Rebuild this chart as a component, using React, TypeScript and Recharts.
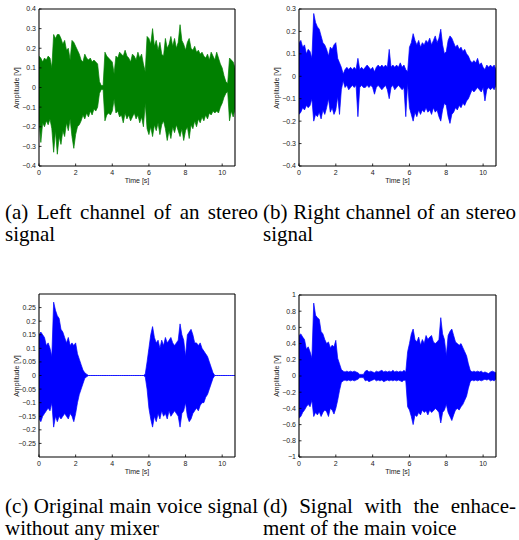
import React from 'react';
import { ComposedChart, Area, XAxis, YAxis } from 'recharts';

// time axis in seconds (0.1 s steps)
const TIME = [
  0, 0.1, 0.2, 0.3, 0.4, 0.5, 0.6, 0.7, 0.8, 0.9,
  1, 1.1, 1.2, 1.3, 1.4, 1.5, 1.6, 1.7, 1.8, 1.9,
  2, 2.1, 2.2, 2.3, 2.4, 2.5, 2.6, 2.7, 2.8, 2.9,
  3, 3.1, 3.2, 3.3, 3.4, 3.5, 3.6, 3.7, 3.8, 3.9,
  4, 4.1, 4.2, 4.3, 4.4, 4.5, 4.6, 4.7, 4.8, 4.9,
  5, 5.1, 5.2, 5.3, 5.4, 5.5, 5.6, 5.7, 5.8, 5.9,
  6, 6.1, 6.2, 6.3, 6.4, 6.5, 6.6, 6.7, 6.8, 6.9,
  7, 7.1, 7.2, 7.3, 7.4, 7.5, 7.6, 7.7, 7.8, 7.9,
  8, 8.1, 8.2, 8.3, 8.4, 8.5, 8.6, 8.7, 8.8, 8.9,
  9, 9.1, 9.2, 9.3, 9.4, 9.5, 9.6, 9.7, 9.8, 9.9,
  10, 10.1, 10.2, 10.3, 10.4, 10.5, 10.6, 10.7,
];

const X_TICKS = [0, 2, 4, 6, 8, 10];

// (a) left channel envelope
const LEFT_HI = [
  0.16, 0.15, 0.13, 0.15, 0.14, 0.16, 0.15, 0.10, 0.27, 0.25,
  0.27, 0.27, 0.25, 0.22, 0.24, 0.19, 0.20, 0.14, 0.24, 0.23,
  0.21, 0.19, 0.17, 0.14, 0.13, 0.17, 0.15, 0.14, 0.15, 0.13,
  0.14, 0.13, 0.12, 0.03, 0.01, 0.01, 0.18, 0.16, 0.15, 0.14,
  0.13, 0.07, 0.16, 0.15, 0.18, 0.17, 0.16, 0.19, 0.16, 0.15,
  0.13, 0.17, 0.16, 0.14, 0.18, 0.15, 0.17, 0.12, 0.08, 0.26,
  0.25, 0.22, 0.30, 0.21, 0.24, 0.19, 0.23, 0.17, 0.16, 0.25,
  0.20, 0.22, 0.26, 0.21, 0.25, 0.20, 0.23, 0.32, 0.24, 0.22,
  0.19, 0.23, 0.25, 0.20, 0.19, 0.21, 0.18, 0.19, 0.17, 0.18,
  0.16, 0.15, 0.17, 0.14, 0.18, 0.16, 0.14, 0.18, 0.15, 0.12,
  0.10, 0.06, 0.03, 0.02, 0.15, 0.14, 0.13, 0.10,
];
const LEFT_LO = [
  -0.17, -0.28, -0.18, -0.20, -0.17, -0.19, -0.16, -0.21, -0.33, -0.22,
  -0.34, -0.25, -0.29, -0.22, -0.25, -0.18, -0.22, -0.16, -0.25, -0.31,
  -0.24, -0.20, -0.19, -0.17, -0.14, -0.16, -0.13, -0.15, -0.12, -0.14,
  -0.11, -0.12, -0.10, -0.03, -0.01, -0.01, -0.17, -0.14, -0.13, -0.14,
  -0.12, -0.06, -0.13, -0.12, -0.15, -0.14, -0.18, -0.13, -0.16, -0.14,
  -0.17, -0.15, -0.13, -0.16, -0.14, -0.18, -0.15, -0.20, -0.08, -0.21,
  -0.24, -0.20, -0.25, -0.19, -0.22, -0.18, -0.24, -0.19, -0.17, -0.21,
  -0.27, -0.22, -0.26, -0.20, -0.23, -0.19, -0.22, -0.25, -0.21, -0.27,
  -0.22, -0.20, -0.26, -0.19, -0.21, -0.17, -0.20, -0.16, -0.18, -0.15,
  -0.17, -0.14, -0.16, -0.13, -0.14, -0.12, -0.13, -0.12, -0.13, -0.10,
  -0.08, -0.05, -0.03, -0.02, -0.17, -0.12, -0.15, -0.11,
];

// (b) right channel envelope
const RIGHT_HI = [
  0.15, 0.16, 0.13, 0.14, 0.10, 0.12, 0.11, 0.08, 0.28, 0.24,
  0.22, 0.21, 0.18, 0.15, 0.14, 0.12, 0.09, 0.13, 0.12, 0.14,
  0.15, 0.08, 0.06, 0.04, 0.01, 0.03, 0.04, 0.03, 0.04, 0.03,
  0.04, 0.03, 0.08, 0.03, 0.04, 0.03, 0.04, 0.05, 0.04, 0.03,
  0.04, 0.02, 0.04, 0.05, 0.04, 0.05, 0.04, 0.05, 0.04, 0.12,
  0.04, 0.05, 0.04, 0.05, 0.04, 0.06, 0.04, 0.05, 0.03, 0.02,
  0.13, 0.15, 0.19, 0.16, 0.14, 0.16, 0.13, 0.15, 0.14, 0.16,
  0.15, 0.17, 0.14, 0.16, 0.18, 0.15, 0.17, 0.21, 0.14, 0.10,
  0.11, 0.16, 0.18, 0.17, 0.15, 0.13, 0.14, 0.12, 0.13, 0.11,
  0.12, 0.10, 0.09, 0.07, 0.06, 0.07, 0.06, 0.08, 0.05, 0.06,
  0.04, 0.03, 0.05, 0.04, 0.05, 0.04, 0.05, 0.03,
];
const RIGHT_LO = [
  -0.17, -0.16, -0.14, -0.15, -0.13, -0.14, -0.13, -0.10, -0.20, -0.17,
  -0.18, -0.16, -0.19, -0.15, -0.17, -0.14, -0.10, -0.16, -0.14, -0.17,
  -0.15, -0.09, -0.17, -0.06, -0.02, -0.05, -0.04, -0.06, -0.05, -0.04,
  -0.05, -0.04, -0.18, -0.05, -0.04, -0.05, -0.05, -0.04, -0.05, -0.04,
  -0.05, -0.08, -0.05, -0.04, -0.05, -0.06, -0.05, -0.04, -0.06, -0.10,
  -0.05, -0.04, -0.06, -0.05, -0.04, -0.05, -0.06, -0.05, -0.18, -0.03,
  -0.14, -0.17, -0.20, -0.16, -0.18, -0.15, -0.17, -0.15, -0.16, -0.14,
  -0.16, -0.15, -0.17, -0.14, -0.16, -0.15, -0.18, -0.20, -0.15, -0.12,
  -0.13, -0.18, -0.21, -0.17, -0.16, -0.14, -0.15, -0.13, -0.14, -0.12,
  -0.13, -0.11, -0.10, -0.08, -0.06, -0.07, -0.06, -0.05, -0.06, -0.07,
  -0.05, -0.11, -0.06, -0.05, -0.06, -0.05, -0.06, -0.04,
];

// (c) original main voice envelope
const VOICE_HI = [
  0.15, 0.16, 0.15, 0.14, 0.11, 0.12, 0.10, 0.07, 0.27, 0.24,
  0.22, 0.21, 0.17, 0.16, 0.14, 0.12, 0.14, 0.11, 0.12, 0.11,
  0.12, 0.08, 0.06, 0.04, 0.02, 0.01, 0.005, 0, 0, 0,
  0, 0, 0, 0, 0, 0, 0, 0, 0, 0,
  0, 0, 0, 0, 0, 0, 0, 0, 0, 0,
  0, 0, 0, 0, 0, 0, 0, 0, 0.005, 0.05,
  0.10, 0.15, 0.18, 0.14, 0.12, 0.13, 0.10, 0.13, 0.11, 0.14,
  0.12, 0.13, 0.14, 0.12, 0.11, 0.12, 0.13, 0.19, 0.15, 0.13,
  0.07, 0.15, 0.16, 0.17, 0.15, 0.12, 0.12, 0.11, 0.12, 0.10,
  0.09, 0.08, 0.07, 0.05, 0.03, 0.01, 0, 0, 0, 0,
  0, 0, 0, 0, 0, 0, 0, 0,
];
const VOICE_LO = [
  -0.16, -0.17, -0.15, -0.14, -0.13, -0.12, -0.13, -0.10, -0.19, -0.15,
  -0.17, -0.15, -0.16, -0.15, -0.14, -0.15, -0.16, -0.14, -0.15, -0.17,
  -0.14, -0.10, -0.07, -0.05, -0.03, -0.01, -0.005, 0, 0, 0,
  0, 0, 0, 0, 0, 0, 0, 0, 0, 0,
  0, 0, 0, 0, 0, 0, 0, 0, 0, 0,
  0, 0, 0, 0, 0, 0, 0, 0, -0.005, -0.05,
  -0.12, -0.16, -0.19, -0.15, -0.17, -0.14, -0.16, -0.13, -0.15, -0.14,
  -0.16, -0.13, -0.15, -0.14, -0.13, -0.14, -0.15, -0.19, -0.14, -0.13,
  -0.10, -0.15, -0.17, -0.16, -0.14, -0.13, -0.12, -0.13, -0.11, -0.10,
  -0.10, -0.08, -0.07, -0.05, -0.03, -0.01, 0, 0, 0, 0,
  0, 0, 0, 0, 0, 0, 0, 0,
];

// (d) enhanced signal envelope
const ENH_HI = [
  0.50, 0.52, 0.48, 0.45, 0.33, 0.36, 0.30, 0.22, 0.90, 0.75,
  0.72, 0.70, 0.55, 0.52, 0.45, 0.40, 0.42, 0.35, 0.38, 0.36,
  0.44, 0.22, 0.15, 0.08, 0.06, 0.05, 0.06, 0.05, 0.06, 0.05,
  0.06, 0.05, 0.04, 0.02, 0.02, 0.02, 0.06, 0.07, 0.05, 0.06,
  0.05, 0.04, 0.06, 0.05, 0.06, 0.07, 0.05, 0.06, 0.05, 0.06,
  0.05, 0.07, 0.05, 0.06, 0.05, 0.06, 0.05, 0.07, 0.05, 0.30,
  0.40, 0.52, 0.58, 0.45, 0.42, 0.48, 0.38, 0.45, 0.40, 0.50,
  0.45, 0.48, 0.50, 0.42, 0.40, 0.42, 0.45, 0.72, 0.52, 0.45,
  0.25, 0.50, 0.55, 0.58, 0.50, 0.42, 0.40, 0.38, 0.40, 0.35,
  0.30, 0.25, 0.15, 0.07, 0.05, 0.06, 0.05, 0.06, 0.05, 0.06,
  0.04, 0.05, 0.04, 0.03, 0.05, 0.06, 0.05, 0.04,
];
const ENH_LO = [
  -0.52, -0.50, -0.45, -0.42, -0.38, -0.35, -0.38, -0.30, -0.50, -0.45,
  -0.48, -0.44, -0.50, -0.45, -0.42, -0.44, -0.50, -0.40, -0.42, -0.47,
  -0.40, -0.30, -0.18, -0.08, -0.06, -0.05, -0.06, -0.05, -0.06, -0.05,
  -0.06, -0.05, -0.04, -0.02, -0.02, -0.02, -0.06, -0.05, -0.07, -0.06,
  -0.05, -0.04, -0.06, -0.05, -0.06, -0.05, -0.07, -0.06, -0.05, -0.06,
  -0.05, -0.06, -0.05, -0.06, -0.05, -0.06, -0.07, -0.05, -0.06, -0.38,
  -0.42, -0.50, -0.60, -0.48, -0.50, -0.45, -0.48, -0.42, -0.45, -0.43,
  -0.48, -0.42, -0.45, -0.43, -0.40, -0.42, -0.45, -0.58, -0.45, -0.42,
  -0.35, -0.45, -0.50, -0.55, -0.48, -0.42, -0.40, -0.42, -0.38, -0.35,
  -0.30, -0.25, -0.15, -0.07, -0.05, -0.06, -0.05, -0.06, -0.05, -0.06,
  -0.05, -0.04, -0.05, -0.04, -0.06, -0.05, -0.06, -0.04,
];

const TICKS_A = [-0.4, -0.3, -0.2, -0.1, 0, 0.1, 0.2, 0.3, 0.4];
const TICKS_B = [-0.4, -0.3, -0.2, -0.1, 0, 0.1, 0.2, 0.3];
const TICKS_C = [-0.25, -0.2, -0.15, -0.1, -0.05, 0, 0.05, 0.1, 0.15, 0.2, 0.25];
const TICKS_D = [-1, -0.8, -0.6, -0.4, -0.2, 0, 0.2, 0.4, 0.6, 0.8, 1];

const CAPTIONS = [
  ['(a) Left channel of an stereo', 'signal'],
  ['(b) Right channel of an stereo', 'signal'],
  ['(c) Original main voice signal', 'without any mixer'],
  ['(d) Signal with the enhace-', 'ment of the main voice'],
];

const SANS = '"Liberation Sans", Arial, Helvetica, sans-serif';
const SERIF = '"Liberation Serif", "Times New Roman", serif';
const W = 259;
const H = 195;
const TICK = -2.5;

const fmt = (v: number) => String(v).replace('-', '\u2212');

interface PanelProps {
  left: number;
  top: number;
  plot: [number, number, number, number]; // x0, y0, x1, y1 inside the panel
  hi: number[];
  lo: number[];
  yDomain: [number, number];
  yTicks: number[];
  color: string;
}

const Panel: React.FC<PanelProps> = ({ left, top, plot, hi, lo, yDomain, yTicks, color }) => {
  const data = TIME.map((t, i) => ({ t, v: [lo[i], hi[i]] }));
  const [x0, y0, x1, y1] = plot;
  const axisLine = { stroke: '#000', strokeWidth: 1.1 };
  const tickLine = { stroke: '#000', strokeWidth: 0.8 };
  const tickStyle = { fontSize: 7, fill: '#222', fontFamily: SANS };
  return (
    <div style={{ position: 'absolute', left, top, width: W, height: H }}>
      <ComposedChart
        width={W}
        height={H}
        data={data}
        margin={{ left: x0 - 1, top: y0 - 1, right: W - x1 - 1, bottom: H - y1 - 1 }}
      >
        <XAxis
          xAxisId="b"
          dataKey="t"
          type="number"
          domain={[0, 10.7]}
          ticks={X_TICKS}
          allowDataOverflow
          height={1}
          tickSize={TICK}
          tickMargin={6.5}
          axisLine={axisLine}
          tickLine={tickLine}
          tick={tickStyle}
          interval={0}
        />
        <XAxis
          xAxisId="t"
          dataKey="t"
          orientation="top"
          type="number"
          domain={[0, 10.7]}
          ticks={X_TICKS}
          allowDataOverflow
          height={1}
          tickSize={TICK}
          axisLine={axisLine}
          tickLine={tickLine}
          tick={false}
          interval={0}
        />
        <YAxis
          yAxisId="l"
          type="number"
          domain={yDomain}
          ticks={yTicks}
          allowDataOverflow
          width={1}
          tickSize={TICK}
          tickMargin={5.5}
          axisLine={axisLine}
          tickLine={tickLine}
          tick={tickStyle}
          tickFormatter={fmt}
          interval={0}
        />
        <YAxis
          yAxisId="r"
          orientation="right"
          type="number"
          domain={yDomain}
          ticks={yTicks}
          allowDataOverflow
          width={1}
          tickSize={TICK}
          axisLine={axisLine}
          tickLine={tickLine}
          tick={false}
          interval={0}
        />
        <Area
          xAxisId="b"
          yAxisId="l"
          dataKey="v"
          type="linear"
          stroke={color}
          strokeWidth={0.7}
          fill={color}
          fillOpacity={1}
          dot={false}
          activeDot={false}
          isAnimationActive={false}
        />
      </ComposedChart>
      <div
        style={{
          position: 'absolute',
          left: x0 - 23,
          top: (y0 + y1) / 2,
          transform: 'translate(-50%, -50%) rotate(-90deg)',
          fontFamily: SANS,
          fontSize: 7,
          color: '#222',
          whiteSpace: 'nowrap',
        }}
      >
        Amplitude [V]
      </div>
      <div
        style={{
          position: 'absolute',
          left: (x0 + x1) / 2,
          top: y1 + 14,
          transform: 'translate(-50%, -50%)',
          fontFamily: SANS,
          fontSize: 7,
          color: '#222',
          whiteSpace: 'nowrap',
        }}
      >
        Time [s]
      </div>
    </div>
  );
};

const Caption: React.FC<{ left: number; top: number; lines: string[] }> = ({ left, top, lines }) => (
  <div
    style={{
      position: 'absolute',
      left,
      top,
      width: 253,
      fontFamily: SERIF,
      fontSize: 21,
      lineHeight: '22px',
      color: '#000',
    }}
  >
    <div style={{ textAlign: 'justify', textAlignLast: 'justify', whiteSpace: 'nowrap' }}>{lines[0]}</div>
    <div style={{ whiteSpace: 'nowrap' }}>{lines[1]}</div>
  </div>
);

export default function App() {
  return (
    <div style={{ position: 'absolute', left: 0, top: 0, width: 519, height: 540, background: '#fff', overflow: 'hidden' }}>
      <Panel left={0} top={0} plot={[39, 9, 235, 166]} hi={LEFT_HI} lo={LEFT_LO} yDomain={[-0.4, 0.4]} yTicks={TICKS_A} color="#008000" />
      <Panel left={260} top={0} plot={[39, 9, 236, 166]} hi={RIGHT_HI} lo={RIGHT_LO} yDomain={[-0.4, 0.3]} yTicks={TICKS_B} color="#0000ff" />
      <Panel left={0} top={280} plot={[39, 14, 235, 177]} hi={VOICE_HI} lo={VOICE_LO} yDomain={[-0.3, 0.3]} yTicks={TICKS_C} color="#0000ff" />
      <Panel left={260} top={280} plot={[39, 15, 236, 177]} hi={ENH_HI} lo={ENH_LO} yDomain={[-1, 1]} yTicks={TICKS_D} color="#0000ff" />
      <Caption left={5} top={201} lines={CAPTIONS[0]} />
      <Caption left={263} top={201} lines={CAPTIONS[1]} />
      <Caption left={5} top={495} lines={CAPTIONS[2]} />
      <Caption left={263} top={495} lines={CAPTIONS[3]} />
    </div>
  );
}
